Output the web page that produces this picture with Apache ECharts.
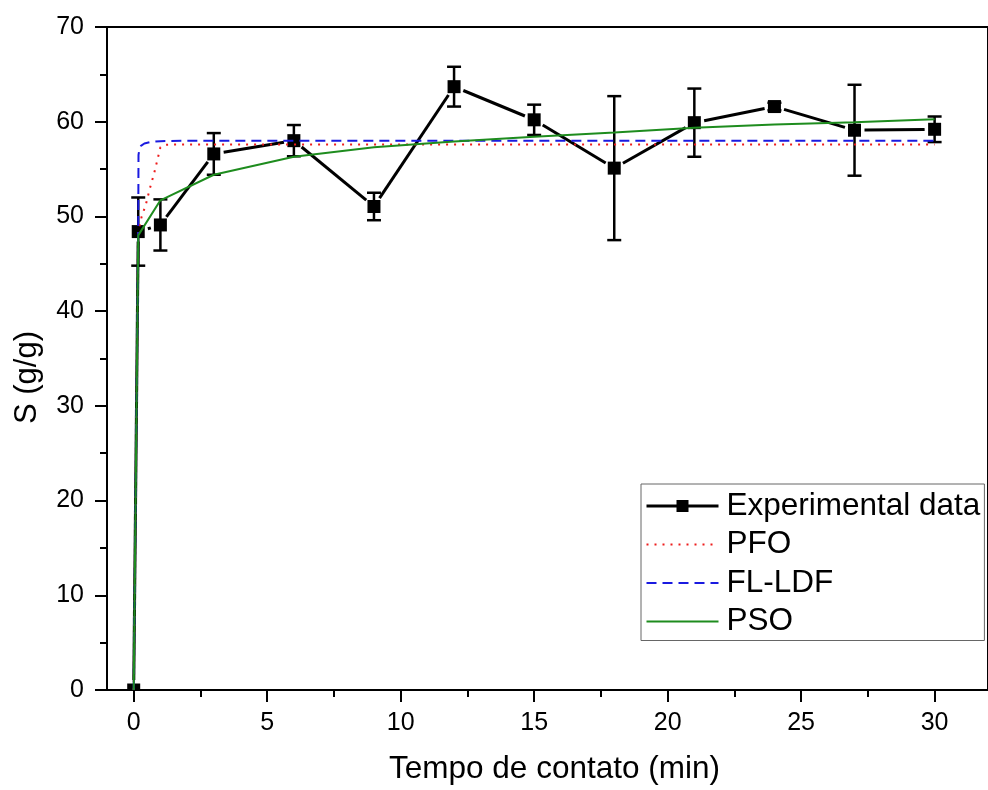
<!DOCTYPE html>
<html>
<head>
<meta charset="utf-8">
<script src="https://cdn.jsdelivr.net/npm/echarts@6/dist/echarts.min.js"></script>
<style>
  html, body { margin: 0; padding: 0; background: #fff; }
  #chart { width: 988px; height: 790px; }
</style>
</head>
<body>
<div id="chart"></div>
<script>
// Contact time (min) and measured sorption capacity S (g/g) with standard deviation
var timeExp = [0, 0.17, 1, 3, 6, 9, 12, 15, 18, 21, 24, 27, 30];
var sExp    = [0, 48.4, 49.1, 56.6, 58.0, 51.05, 63.7, 60.2, 55.1, 59.9, 61.6, 59.1, 59.2];
var sErr    = [0, 3.6, 2.7, 2.2, 1.65, 1.45, 2.1, 1.6, 7.6, 3.6, 0.4, 4.8, 1.35];

// Pseudo-first-order fit
var pfoTime = [0, 0.17, 0.3, 0.45, 0.6, 0.77, 0.89, 1.0, 1.15, 1.5, 30];
var pfoS    = [0, 48.4, 50.0, 51.2, 52.9, 54.6, 56.0, 57.3, 57.55, 57.6, 57.6];

// Film-diffusion LDF fit
var ldfTime = [0, 0.17, 0.18, 0.22, 0.27, 0.4, 0.6, 1, 2, 30];
var ldfS    = [0, 48.4, 56.5, 57.2, 57.45, 57.7, 57.85, 57.95, 58.0, 58.0];

// Pseudo-second-order fit
var psoTime = [0, 0.17, 1, 3, 6, 9, 12, 15, 18, 21, 24, 27, 30];
var psoS    = [0, 48.0, 51.7, 54.4, 56.3, 57.3, 57.9, 58.4, 58.85, 59.35, 59.7, 59.95, 60.25];

// Axis ticks
var xMajorTicks = [0, 5, 10, 15, 20, 25, 30];
var xMinorTicks = [2.5, 7.5, 12.5, 17.5, 22.5, 27.5];

var FONT = '"Liberation Sans", Arial, sans-serif';

function pairs(xs, ys) {
  return xs.map(function (x, i) { return [x, ys[i]]; });
}

// rows: t, S, err, previous t, previous S
var expRows = timeExp.map(function (t, i) {
  return [t, sExp[i], sErr[i],
          i > 0 ? timeExp[i - 1] : NaN,
          i > 0 ? sExp[i - 1] : NaN];
});

var GAP = 10;      // gap between connecting line and symbol centre
var BOX = 13;      // square symbol size
var CAP = 14;      // error bar cap width

function renderExp(params, api) {
  var t = api.value(0), s = api.value(1), e = api.value(2);
  var tp = api.value(3), sp = api.value(4);
  var p = api.coord([t, s]);
  var children = [];

  if (!isNaN(tp)) {
    var q = api.coord([tp, sp]);
    var dx = p[0] - q[0], dy = p[1] - q[1];
    var len = Math.sqrt(dx * dx + dy * dy);
    if (len > 2 * GAP) {
      var ux = dx / len, uy = dy / len;
      children.push({
        type: 'line',
        shape: { x1: q[0] + ux * GAP, y1: q[1] + uy * GAP,
                 x2: p[0] - ux * GAP, y2: p[1] - uy * GAP },
        style: { stroke: '#000', lineWidth: 3 }
      });
    }
  }

  if (e > 0) {
    var top = api.coord([t, s + e]);
    var bot = api.coord([t, s - e]);
    var st = { stroke: '#000', lineWidth: 2.5 };
    children.push({ type: 'line', shape: { x1: p[0], y1: top[1], x2: p[0], y2: bot[1] }, style: st });
    children.push({ type: 'line', shape: { x1: p[0] - CAP / 2, y1: top[1], x2: p[0] + CAP / 2, y2: top[1] }, style: st });
    children.push({ type: 'line', shape: { x1: p[0] - CAP / 2, y1: bot[1], x2: p[0] + CAP / 2, y2: bot[1] }, style: st });
  }

  children.push({
    type: 'rect',
    shape: { x: p[0] - BOX / 2, y: p[1] - BOX / 2, width: BOX, height: BOX },
    style: { fill: '#000' }
  });

  return { type: 'group', children: children };
}

var chart = echarts.init(document.getElementById('chart'), null, { renderer: 'canvas' });

var axisLineStyle = { color: '#000', width: 2 };
var hiddenSymbol = { opacity: 0 };

chart.setOption({
  animation: false,
  backgroundColor: '#fff',
  textStyle: { fontFamily: FONT },
  grid: {
    left: 107, top: 27, width: 891, height: 664,
    show: true, borderColor: '#000', borderWidth: 2, backgroundColor: 'transparent'
  },
  legend: {
    left: 641, top: 484,
    orient: 'vertical',
    backgroundColor: '#fff',
    borderColor: '#666', borderWidth: 1,
    padding: [6, 4, 3, 4],
    itemWidth: 72, itemHeight: 15, itemGap: 6.5,
    textStyle: { fontSize: 31.5, lineHeight: 30, color: '#000', fontFamily: FONT, padding: [0, 0, 0, 3] },
    data: [
      { name: 'Experimental data',
        lineStyle: { opacity: 1, color: '#000', width: 3 },
        itemStyle: { opacity: 1, color: '#000' } },
      { name: 'PFO', itemStyle: hiddenSymbol },
      { name: 'FL-LDF', itemStyle: hiddenSymbol },
      { name: 'PSO', itemStyle: hiddenSymbol }
    ]
  },
  xAxis: [
    {
      type: 'value', min: -1, max: 32, position: 'bottom',
      name: 'Tempo de contato (min)', nameLocation: 'middle', nameGap: 63,
      nameTextStyle: { fontSize: 31.5, color: '#000', fontFamily: FONT, padding: [0, 0, 0, 14] },
      axisLine: { show: true, onZero: false, lineStyle: axisLineStyle },
      axisTick: { show: true, inside: false, length: 12, customValues: xMajorTicks, lineStyle: axisLineStyle },
      axisLabel: { show: true, customValues: xMajorTicks, fontSize: 25, color: '#000', margin: 21, fontFamily: FONT },
      splitLine: { show: false }
    },
    {
      type: 'value', min: -1, max: 32, position: 'bottom',
      axisLine: { show: false, onZero: false },
      axisTick: { show: true, inside: false, length: 7, customValues: xMinorTicks, lineStyle: axisLineStyle },
      axisLabel: { show: false },
      splitLine: { show: false }
    }
  ],
  yAxis: {
    type: 'value', min: 0, max: 70, interval: 10,
    name: 'S (g/g)', nameLocation: 'middle', nameGap: 64, nameRotate: 90,
    nameTextStyle: { fontSize: 31, color: '#000', fontFamily: FONT, padding: [0, 38, 0, 0] },
    axisLine: { show: true, onZero: false, lineStyle: axisLineStyle },
    axisTick: { show: true, inside: false, length: 12, lineStyle: axisLineStyle },
    minorTick: { show: true, splitNumber: 2, length: 7, lineStyle: axisLineStyle },
    axisLabel: { fontSize: 25, color: '#000', margin: 23, fontFamily: FONT },
    splitLine: { show: false }
  },
  series: [
    {
      name: 'Experimental data',
      type: 'line',
      data: pairs(timeExp, sExp),
      symbol: 'rect', symbolSize: BOX,
      itemStyle: { color: '#000', opacity: 0 },
      lineStyle: { color: '#000', width: 3, opacity: 0 },
      silent: true, z: 1
    },
    {
      type: 'custom',
      data: expRows,
      renderItem: renderExp,
      clip: true,
      encode: { x: 0, y: 1 },
      silent: true, z: 2
    },
    {
      name: 'PFO', type: 'line', data: pairs(pfoTime, pfoS),
      symbol: 'none', clip: true,
      lineStyle: { color: '#ee1c1c', width: 2, type: [2, 6] },
      itemStyle: { color: '#ee1c1c' },
      z: 3
    },
    {
      name: 'FL-LDF', type: 'line', data: pairs(ldfTime, ldfS),
      symbol: 'none', clip: true,
      lineStyle: { color: '#1a1ae0', width: 2, type: [10, 6] },
      itemStyle: { color: '#1a1ae0' },
      z: 4
    },
    {
      name: 'PSO', type: 'line', data: pairs(psoTime, psoS),
      symbol: 'none', clip: true,
      lineStyle: { color: '#1e8c1e', width: 2 },
      itemStyle: { color: '#1e8c1e' },
      z: 5
    }
  ]
});
</script>
</body>
</html>
